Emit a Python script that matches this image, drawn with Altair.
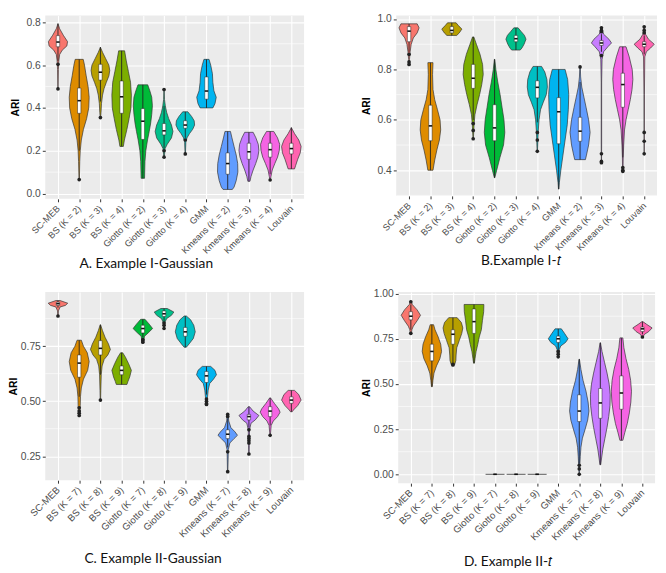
import altair as alt
import pandas as pd

HUE = ["#F8766D", "#DE8C00", "#B79F00", "#7CAE00", "#00BA38", "#00C08B",
       "#00BFC4", "#00B4F0", "#619CFF", "#C77CFF", "#F564E3", "#FF64B0"]

names_I = ["SC-MEB", "BS (K = 2)", "BS (K = 3)", "BS (K = 4)", "Giotto (K = 2)",
           "Giotto (K = 3)", "Giotto (K = 4)", "GMM", "Kmeans (K = 2)",
           "Kmeans (K = 3)", "Kmeans (K = 4)", "Louvain"]
names_II = ["SC-MEB", "BS (K = 7)", "BS (K = 8)", "BS (K = 9)", "Giotto (K = 7)",
            "Giotto (K = 8)", "Giotto (K = 9)", "GMM", "Kmeans (K = 7)",
            "Kmeans (K = 8)", "Kmeans (K = 9)", "Louvain"]

# ---- violin profiles: [ARI level, half width in category units] ----
viol_A = [
    [[0.794, 0], [0.77, 0.08], [0.74, 0.25], [0.71, 0.45], [0.69, 0.42], [0.67, 0.2], [0.65, 0.08], [0.62, 0.04], [0.58, 0.02], [0.489, 0.005]],
    [[0.627, 0.19], [0.60, 0.25], [0.55, 0.33], [0.50, 0.42], [0.45, 0.47], [0.40, 0.45], [0.35, 0.35], [0.30, 0.2], [0.25, 0.1], [0.2, 0.05], [0.15, 0.03], [0.065, 0.01]],
    [[0.684, 0], [0.66, 0.1], [0.63, 0.25], [0.60, 0.40], [0.575, 0.44], [0.55, 0.40], [0.52, 0.28], [0.49, 0.17], [0.46, 0.1], [0.42, 0.05], [0.38, 0.03], [0.355, 0.01]],
    [[0.667, 0.14], [0.62, 0.22], [0.57, 0.32], [0.52, 0.42], [0.46, 0.46], [0.40, 0.44], [0.35, 0.35], [0.30, 0.25], [0.25, 0.13], [0.22, 0.08]],
    [[0.508, 0.23], [0.48, 0.33], [0.45, 0.42], [0.41, 0.45], [0.37, 0.42], [0.33, 0.37], [0.29, 0.3], [0.25, 0.22], [0.2, 0.14], [0.15, 0.1], [0.071, 0.08]],
    [[0.486, 0.01], [0.44, 0.02], [0.41, 0.06], [0.38, 0.12], [0.35, 0.22], [0.32, 0.35], [0.29, 0.42], [0.26, 0.35], [0.23, 0.15], [0.21, 0.05], [0.17, 0.01]],
    [[0.382, 0.12], [0.36, 0.3], [0.34, 0.42], [0.32, 0.44], [0.30, 0.35], [0.28, 0.2], [0.26, 0.08], [0.24, 0.03], [0.185, 0.01]],
    [[0.627, 0.12], [0.60, 0.2], [0.56, 0.28], [0.52, 0.3], [0.48, 0.35], [0.45, 0.46], [0.42, 0.4], [0.40, 0.3]],
    [[0.29, 0.13], [0.26, 0.2], [0.22, 0.3], [0.18, 0.4], [0.14, 0.47], [0.10, 0.48], [0.06, 0.4], [0.03, 0.3], [0.019, 0.22]],
    [[0.286, 0.2], [0.26, 0.33], [0.23, 0.44], [0.20, 0.47], [0.17, 0.42], [0.14, 0.32], [0.11, 0.2], [0.08, 0.1], [0.057, 0.05]],
    [[0.29, 0.17], [0.26, 0.35], [0.23, 0.45], [0.20, 0.43], [0.17, 0.35], [0.14, 0.22], [0.11, 0.1], [0.08, 0.04], [0.063, 0.01]],
    [[0.308, 0], [0.28, 0.15], [0.25, 0.35], [0.22, 0.46], [0.19, 0.42], [0.16, 0.3], [0.13, 0.2], [0.115, 0.15]],
]
viol_B = [
    [[0.981, 0.38], [0.965, 0.47], [0.945, 0.38], [0.925, 0.2], [0.9, 0.1], [0.87, 0.05], [0.84, 0.02], [0.82, 0.01]],
    [[0.827, 0.12], [0.78, 0.1], [0.72, 0.12], [0.68, 0.2], [0.64, 0.33], [0.60, 0.45], [0.56, 0.48], [0.52, 0.42], [0.48, 0.3], [0.44, 0.2], [0.40, 0.12]],
    [[0.985, 0.2], [0.975, 0.3], [0.96, 0.47], [0.945, 0.35], [0.935, 0.23]],
    [[0.929, 0.03], [0.9, 0.15], [0.86, 0.32], [0.82, 0.44], [0.78, 0.47], [0.74, 0.4], [0.7, 0.3], [0.66, 0.18], [0.62, 0.08], [0.58, 0.04], [0.525, 0.01]],
    [[0.84, 0.01], [0.8, 0.06], [0.75, 0.15], [0.70, 0.26], [0.65, 0.35], [0.60, 0.44], [0.55, 0.48], [0.50, 0.42], [0.45, 0.25], [0.40, 0.1], [0.37, 0.01]],
    [[0.965, 0.1], [0.95, 0.25], [0.935, 0.4], [0.92, 0.47], [0.9, 0.38], [0.885, 0.28], [0.877, 0.2]],
    [[0.812, 0.2], [0.79, 0.35], [0.76, 0.45], [0.73, 0.47], [0.70, 0.42], [0.67, 0.28], [0.64, 0.15], [0.60, 0.08], [0.55, 0.04], [0.475, 0.01]],
    [[0.80, 0.3], [0.76, 0.42], [0.70, 0.47], [0.64, 0.45], [0.58, 0.4], [0.52, 0.3], [0.46, 0.2], [0.40, 0.1], [0.35, 0.03], [0.325, 0.01]],
    [[0.81, 0.01], [0.77, 0.03], [0.73, 0.08], [0.69, 0.18], [0.65, 0.28], [0.60, 0.4], [0.55, 0.47], [0.50, 0.4], [0.46, 0.3], [0.442, 0.25]],
    [[0.965, 0.02], [0.94, 0.1], [0.92, 0.35], [0.905, 0.47], [0.89, 0.3], [0.87, 0.1], [0.84, 0.03], [0.75, 0.01], [0.5, 0.01], [0.43, 0.005]],
    [[0.89, 0.15], [0.85, 0.3], [0.80, 0.44], [0.76, 0.47], [0.72, 0.43], [0.68, 0.35], [0.64, 0.25], [0.60, 0.15], [0.56, 0.08], [0.50, 0.04], [0.45, 0.02], [0.395, 0.01]],
    [[0.969, 0.01], [0.94, 0.06], [0.92, 0.2], [0.90, 0.47], [0.885, 0.3], [0.87, 0.1], [0.85, 0.03], [0.7, 0.01], [0.465, 0.005]],
]
viol_C = [
    [[0.957, 0.1], [0.945, 0.46], [0.935, 0.35], [0.928, 0.1], [0.91, 0.02], [0.887, 0.01]],
    [[0.777, 0.1], [0.75, 0.2], [0.72, 0.38], [0.68, 0.47], [0.64, 0.4], [0.60, 0.2], [0.56, 0.1], [0.52, 0.06], [0.48, 0.05], [0.45, 0.04], [0.43, 0.02]],
    [[0.847, 0.01], [0.82, 0.1], [0.79, 0.22], [0.76, 0.38], [0.735, 0.47], [0.71, 0.35], [0.69, 0.18], [0.66, 0.08], [0.62, 0.04], [0.55, 0.02], [0.505, 0.01]],
    [[0.72, 0.05], [0.70, 0.18], [0.67, 0.33], [0.64, 0.46], [0.61, 0.38], [0.59, 0.3], [0.576, 0.25]],
    [[0.872, 0.1], [0.85, 0.3], [0.83, 0.46], [0.81, 0.25], [0.795, 0.08], [0.78, 0.05], [0.768, 0.03]],
    [[0.921, 0.15], [0.905, 0.46], [0.89, 0.35], [0.875, 0.12], [0.86, 0.05], [0.83, 0.02]],
    [[0.887, 0.05], [0.87, 0.25], [0.845, 0.4], [0.815, 0.47], [0.785, 0.38], [0.76, 0.18], [0.745, 0.05]],
    [[0.658, 0.2], [0.64, 0.4], [0.62, 0.47], [0.60, 0.33], [0.58, 0.15], [0.55, 0.08], [0.52, 0.05], [0.50, 0.04], [0.485, 0.02]],
    [[0.44, 0.02], [0.41, 0.05], [0.38, 0.15], [0.36, 0.35], [0.345, 0.46], [0.33, 0.3], [0.31, 0.1], [0.28, 0.03], [0.18, 0.01]],
    [[0.475, 0.03], [0.455, 0.2], [0.435, 0.47], [0.415, 0.3], [0.40, 0.1], [0.37, 0.03], [0.3, 0.02], [0.26, 0.01]],
    [[0.515, 0.02], [0.49, 0.2], [0.465, 0.4], [0.45, 0.47], [0.43, 0.35], [0.41, 0.15], [0.39, 0.05], [0.345, 0.01]],
    [[0.549, 0.15], [0.53, 0.35], [0.505, 0.46], [0.48, 0.3], [0.46, 0.1], [0.452, 0.04]],
]
viol_D = [
    [[0.96, 0.01], [0.94, 0.07], [0.91, 0.3], [0.88, 0.46], [0.85, 0.3], [0.82, 0.12], [0.80, 0.05], [0.775, 0.02]],
    [[0.828, 0.08], [0.80, 0.15], [0.76, 0.3], [0.72, 0.42], [0.68, 0.46], [0.64, 0.38], [0.60, 0.22], [0.56, 0.1], [0.52, 0.05], [0.485, 0.02]],
    [[0.867, 0.2], [0.84, 0.4], [0.81, 0.47], [0.78, 0.42], [0.74, 0.3], [0.70, 0.18], [0.66, 0.15], [0.63, 0.14], [0.606, 0.08]],
    [[0.94, 0.47], [0.90, 0.46], [0.85, 0.4], [0.80, 0.35], [0.76, 0.25], [0.72, 0.18], [0.68, 0.1], [0.64, 0.05], [0.615, 0.02]],
    [[0.0, 0.45]],
    [[0.0, 0.45]],
    [[0.0, 0.45]],
    [[0.805, 0.15], [0.78, 0.3], [0.75, 0.47], [0.73, 0.35], [0.71, 0.12], [0.69, 0.05], [0.645, 0.02]],
    [[0.637, 0.01], [0.58, 0.08], [0.52, 0.18], [0.46, 0.32], [0.40, 0.42], [0.35, 0.46], [0.30, 0.4], [0.25, 0.28], [0.20, 0.15], [0.15, 0.08], [0.10, 0.05], [0.05, 0.03], [0.0, 0.01]],
    [[0.728, 0.01], [0.68, 0.08], [0.62, 0.2], [0.56, 0.32], [0.50, 0.42], [0.44, 0.47], [0.38, 0.46], [0.32, 0.4], [0.26, 0.32], [0.20, 0.22], [0.14, 0.12], [0.09, 0.06], [0.053, 0.02]],
    [[0.755, 0.07], [0.70, 0.12], [0.64, 0.22], [0.58, 0.35], [0.52, 0.44], [0.46, 0.48], [0.40, 0.45], [0.34, 0.38], [0.28, 0.28], [0.23, 0.16], [0.188, 0.07]],
    [[0.845, 0.02], [0.83, 0.2], [0.81, 0.46], [0.79, 0.3], [0.775, 0.1], [0.76, 0.02]],
]

# ---- box statistics: [lower whisker, q1, median, q3, upper whisker] ----
box_A = [[0.62, 0.686, 0.708, 0.738, 0.794], [0.2, 0.375, 0.434, 0.493, 0.627], [0.43, 0.53, 0.567, 0.604, 0.684],
         [0.22, 0.375, 0.452, 0.526, 0.667], [0.071, 0.253, 0.338, 0.397, 0.508], [0.21, 0.274, 0.293, 0.327, 0.41],
         [0.26, 0.305, 0.32, 0.34, 0.382], [0.40, 0.441, 0.479, 0.545, 0.627], [0.019, 0.09, 0.14, 0.19, 0.29],
         [0.057, 0.16, 0.195, 0.235, 0.286], [0.09, 0.17, 0.205, 0.235, 0.29], [0.115, 0.185, 0.21, 0.235, 0.308]]
box_B = [[0.87, 0.91, 0.952, 0.97, 0.981], [0.40, 0.517, 0.576, 0.658, 0.827], [0.935, 0.945, 0.955, 0.97, 0.985],
         [0.6, 0.725, 0.765, 0.82, 0.929], [0.37, 0.517, 0.568, 0.66, 0.84], [0.877, 0.91, 0.922, 0.935, 0.965],
         [0.59, 0.687, 0.729, 0.755, 0.812], [0.325, 0.505, 0.632, 0.688, 0.80], [0.442, 0.515, 0.555, 0.61, 0.75],
         [0.87, 0.895, 0.905, 0.915, 0.94], [0.45, 0.65, 0.74, 0.785, 0.89], [0.86, 0.89, 0.9, 0.91, 0.935]]
box_C = [[0.925, 0.935, 0.943, 0.95, 0.957], [0.52, 0.609, 0.673, 0.71, 0.777], [0.62, 0.71, 0.74, 0.775, 0.847],
         [0.576, 0.62, 0.64, 0.66, 0.72], [0.79, 0.81, 0.83, 0.845, 0.872], [0.86, 0.885, 0.897, 0.91, 0.921],
         [0.745, 0.795, 0.815, 0.835, 0.887], [0.53, 0.585, 0.615, 0.635, 0.658], [0.29, 0.33, 0.35, 0.37, 0.42],
         [0.38, 0.415, 0.43, 0.44, 0.475], [0.39, 0.43, 0.455, 0.475, 0.515], [0.452, 0.49, 0.505, 0.52, 0.549]]
box_D = [[0.8, 0.855, 0.875, 0.9, 0.94], [0.485, 0.628, 0.68, 0.72, 0.828], [0.62, 0.72, 0.775, 0.8, 0.867],
         [0.615, 0.78, 0.845, 0.915, 0.94], [0, 0, 0, 0, 0], [0, 0, 0, 0, 0], [0, 0, 0, 0, 0],
         [0.69, 0.73, 0.75, 0.765, 0.805], [0.06, 0.292, 0.35, 0.44, 0.637], [0.053, 0.31, 0.395, 0.475, 0.728],
         [0.188, 0.36, 0.45, 0.545, 0.755], [0.775, 0.79, 0.805, 0.815, 0.845]]

# ---- outliers ----
out_A = [[0.604, 0.489], [0.065], [0.355], [], [], [0.486, 0.2, 0.17], [0.25, 0.185], [], [], [], [0.063], []]
out_B = [[0.86, 0.83, 0.82], [], [], [0.585, 0.558, 0.525], [], [], [0.55, 0.52, 0.475], [], [0.81],
         [0.965, 0.955, 0.95, 0.855, 0.465, 0.435, 0.43], [0.41, 0.40, 0.395], [0.969, 0.955, 0.945, 0.55, 0.515, 0.465]]
out_C = [[0.887], [0.47, 0.455, 0.445, 0.435], [0.505], [], [0.78, 0.775, 0.768], [0.855, 0.845, 0.83], [],
         [0.51, 0.50, 0.49, 0.485], [0.44, 0.43, 0.27, 0.18], [0.37, 0.34, 0.33, 0.32, 0.31, 0.26], [0.345], []]
out_D = [[0.955, 0.78], [], [0.61, 0.605], [], [], [], [], [0.68, 0.665, 0.65], [0.05, 0.03, 0.0], [], [], [0.76]]

ticks_A, minor_A = [0.0, 0.2, 0.4, 0.6, 0.8], [0.1, 0.3, 0.5, 0.7]
ticks_B, minor_B = [0.4, 0.6, 0.8, 1.0], [0.3, 0.5, 0.7, 0.9]
ticks_C, minor_C = [0.25, 0.5, 0.75], [0.375, 0.625, 0.875]
ticks_D, minor_D = [0.0, 0.25, 0.5, 0.75, 1.0], [0.125, 0.375, 0.625, 0.875]

BOXW = 0.08
LABEL_FONT = "Liberation Sans"


def panel(names, viol, box, outs, ydom, ticks, minor, fmt, caption, dx, w, h, tpad, xfs, toff):
    vrows, frows = [], []
    for i, prof in enumerate(viol):
        if len(prof) == 1:
            frows.append({"idx": i, "y": prof[0][0], "hw": prof[0][1]})
        else:
            for y, hw in sorted(prof):
                vrows.append({"idx": i, "y": y, "hw": hw})
    brows = [{"idx": i, "lo": b[0], "q1": b[1], "med": b[2], "q3": b[3], "hi": b[4]} for i, b in enumerate(box)]
    orows = [{"idx": i, "y": v} for i, o in enumerate(outs) for v in o]

    xs = alt.Scale(domain=[-0.6, 11.6], nice=False, zero=False)
    ys = alt.Scale(domain=ydom, nice=False, zero=False)
    expr = "[" + ",".join("'%s'" % n for n in names) + "][round(datum.value)]"
    xaxis = alt.Axis(values=list(range(12)), labelExpr=expr, labelAngle=-45, labelAlign="right",
                     labelBaseline="middle", labelOverlap=False, labelFlush=False, labelBound=False,
                     title=None, grid=True, labelPadding=5, labelFontSize=xfs)
    yaxis = alt.Axis(values=ticks, format=fmt, title="ARI", grid=True, titlePadding=tpad,
                     labelOverlap=False, labelFlush=False)

    def X(f):
        return alt.X(f, scale=xs, axis=xaxis, title=None)

    def Y(f):
        return alt.Y(f, scale=ys, axis=yaxis, title="ARI")

    grid = alt.Chart(pd.DataFrame({"y": minor})).mark_rule(color="white", strokeWidth=0.6).encode(
        y=Y("y:Q"))

    vdf = pd.DataFrame(vrows)
    violin = alt.Chart(vdf).transform_calculate(
        xl="datum.idx - datum.hw", xr="datum.idx + datum.hw"
    ).mark_area(orient="horizontal", stroke="#333333", strokeWidth=0.7, opacity=1).encode(
        y=Y("y:Q"),
        x=X("xl:Q"),
        x2="xr:Q",
        color=alt.Color("idx:O", scale=alt.Scale(domain=list(range(12)), range=HUE), legend=None),
        detail="idx:O",
    )
    layers = [grid, violin]
    if frows:
        flat = alt.Chart(pd.DataFrame(frows)).transform_calculate(
            xl="datum.idx - datum.hw", xr="datum.idx + datum.hw"
        ).mark_rule(color="#333333", strokeWidth=0.8).encode(
            x=X("xl:Q"), x2="xr:Q", y=Y("y:Q"))
        layers.append(flat)

    bdf = pd.DataFrame(brows)
    base = alt.Chart(bdf).transform_calculate(
        bl="datum.idx - %f" % BOXW, br="datum.idx + %f" % BOXW)
    whisk = base.mark_rule(color="#222222", strokeWidth=0.9).encode(
        x=X("idx:Q"), y=Y("lo:Q"), y2="hi:Q")
    rect = base.mark_rect(fill="white", stroke="#222222", strokeWidth=0.5).encode(
        x=X("bl:Q"), x2="br:Q", y=Y("q1:Q"), y2="q3:Q")
    med = base.mark_rule(color="#111111", strokeWidth=1.6).encode(
        x=X("bl:Q"), x2="br:Q", y=Y("med:Q"))
    layers += [whisk, rect, med]
    if orows:
        pts = alt.Chart(pd.DataFrame(orows)).mark_circle(color="#222222", size=14, opacity=1).encode(
            x=X("idx:Q"), y=Y("y:Q"))
        layers.append(pts)

    return alt.layer(*layers).properties(
        width=w, height=h,
        title=alt.TitleParams(caption, orient="bottom", anchor="middle", frame="group", dx=dx,
                              offset=toff, font="Lato", fontSize=14, fontWeight="normal", color="#111111"))


pA = panel(names_I, viol_A, box_A, out_A, [-0.025, 0.832], ticks_A, minor_A, ".1f",
           "A. Example I-Gaussian", -29, 264, 187, 6, 9.3, 2)
pB = panel(names_I, viol_B, box_B, out_B, [0.298, 1.014], ticks_B, minor_B, ".1f",
           "B.Example I-\U0001D461", -6, 266, 184, 6, 9.3, 2)
pC = panel(names_II, viol_C, box_C, out_C, [0.141, 0.996], ticks_C, minor_C, ".2f",
           "C. Example  II-Gaussian", -22, 264, 192, 2, 9.8, 14)
pD = panel(names_II, viol_D, box_D, out_D, [-0.049, 1.009], ticks_D, minor_D, ".2f",
           "D. Example II-\U0001D461", -19, 262, 195, 2, 9.8, 14)

chart = alt.vconcat(
    alt.hconcat(pA, pB, spacing=57),
    alt.hconcat(pC, pD, spacing=57),
    spacing=17,
    padding=0,
).configure(
    padding=0, background="white"
).configure_view(
    fill="#EBEBEB", stroke=None
).configure_axis(
    domain=False, gridColor="white", gridWidth=1.1, tickColor="#333333", tickSize=3, tickWidth=1,
    labelColor="#4D4D4D", labelFont=LABEL_FONT, labelFontSize=10.5, titleFont=LABEL_FONT,
    titleFontSize=10.5, titleFontWeight="bold", titleColor="#000000"
)

chart.save("out.html", embed_options={"renderer": "svg", "actions": False})
